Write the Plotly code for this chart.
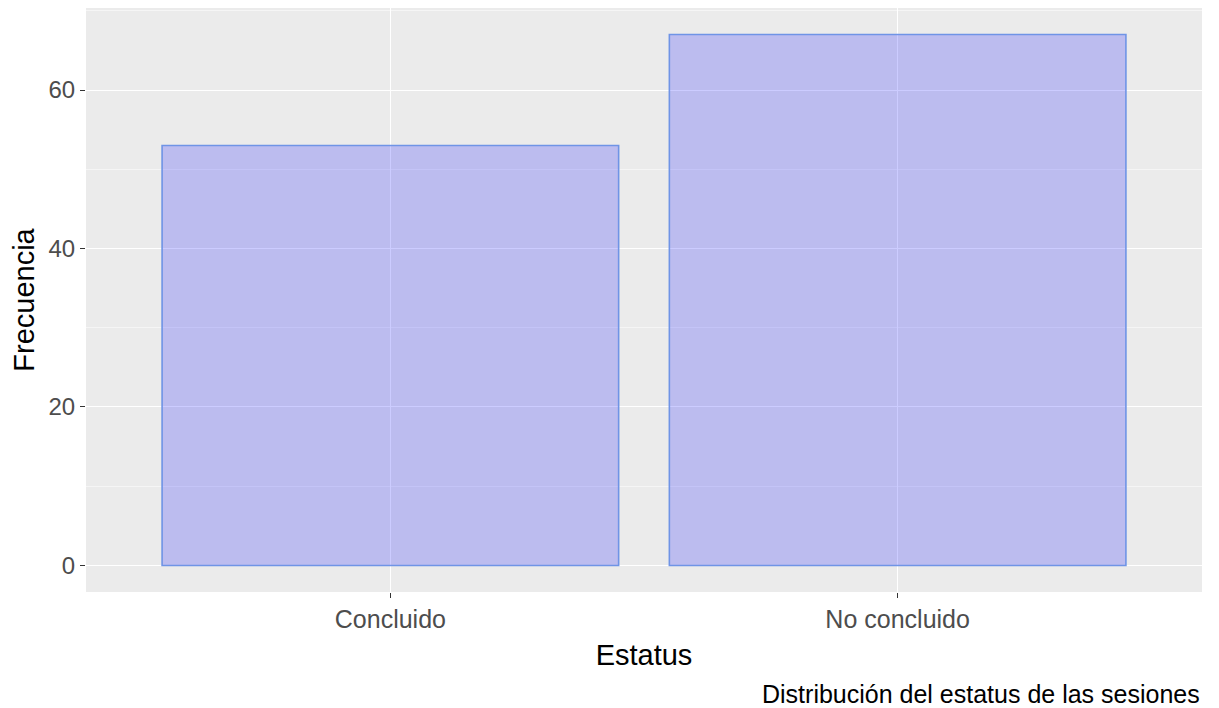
import plotly.graph_objects as go

# Data
estatus = ['Concluido', 'No concluido']
frecuencia = [53, 67]

y_ticks = [0, 20, 40, 60]

fig = go.Figure()

fig.add_trace(go.Bar(
    x=[0, 1],
    y=frecuencia,
    width=0.9,
    marker=dict(color='rgba(0,0,255,0.2)',
                line=dict(color='#6F94E6', width=1.6)),
    showlegend=False
))

# the page body adds 8px, so margins are shifted to compensate
fig.update_layout(
    width=1219, height=708,
    margin=dict(l=78, r=25, t=0, b=124),
    paper_bgcolor='white',
    plot_bgcolor='#EBEBEB',
    font=dict(family='Liberation Sans, Arial, sans-serif', color='#4D4D4D', size=24),
    xaxis=dict(
        range=[-0.6, 1.6],
        tickvals=[0, 1], ticktext=estatus,
        showgrid=True, gridcolor='white', gridwidth=1.4,
        ticks='outside', ticklen=5, tickcolor='#333333', tickwidth=1.2,
        zeroline=False, showline=False,
        tickfont=dict(size=25),
        title=dict(text='Estatus', font=dict(size=29, color='black'), standoff=12),
    ),
    yaxis=dict(
        range=[-3.35, 70.35],
        tickvals=y_ticks,
        showgrid=True, gridcolor='white', gridwidth=1.4,
        minor=dict(dtick=10, tick0=10, showgrid=True, gridcolor='#F5F5F5', gridwidth=0.7),
        ticks='outside', ticklen=5, tickcolor='#333333', tickwidth=1.2,
        zeroline=False, showline=False,
        title=dict(text='Frecuencia', font=dict(size=29, color='black'), standoff=10),
    ),
    annotations=[dict(
        text='Distribución del estatus de las sesiones',
        xref='paper', yref='paper', x=1, y=0,
        xanchor='right', yanchor='middle', yshift=-102,
        showarrow=False, font=dict(size=25, color='black')
    )]
)

fig.write_html("out.html")
